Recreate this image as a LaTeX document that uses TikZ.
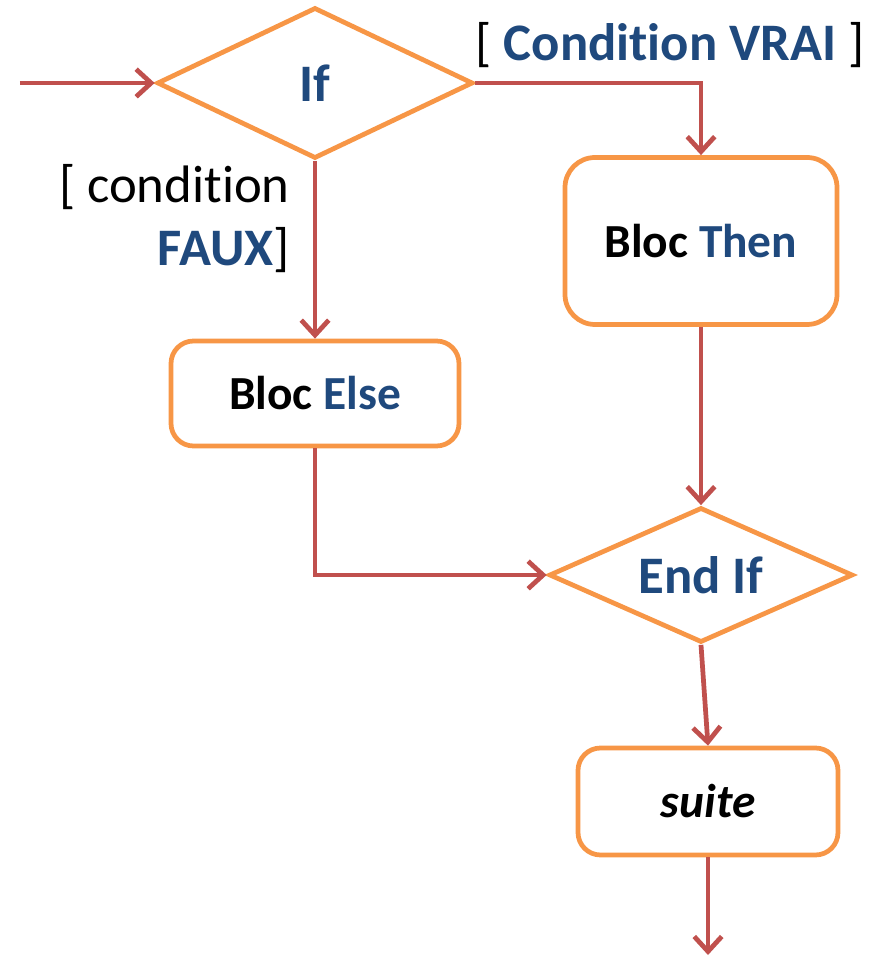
\documentclass[tikz,border=0pt]{standalone}
\usepackage{fontspec}
\setmainfont{Carlito}[Ligatures=NoCommon]
\usepackage{tikz}
\usetikzlibrary{shapes.geometric, arrows.meta}
\definecolor{boxorange}{HTML}{F79646}
\definecolor{flowred}{HTML}{C0504D}
\definecolor{kwblue}{HTML}{1F497D}
\def\lw{2.7pt}
\tikzset{decision/.style={diamond, aspect=2.2, draw=boxorange, fill=white, line width=\lw, inner sep=0pt,
    font=\fontsize{30}{36}\selectfont\bfseries\color{kwblue}}}
\tikzset{block/.style={rectangle, draw=boxorange, fill=white, line width=\lw, inner sep=0pt,
    rounded corners=.45cm, font=\fontsize{27}{32}\selectfont\bfseries}}
\tikzset{flow/.style={flowred, line width=\lw, -{Straight Barb[length=.3cm, width=.55cm, line width=\lw]}}}
\tikzset{guard/.style={inner sep=0pt, font=\fontsize{30}{36}\selectfont}}

\begin{document}
\begin{tikzpicture}
      \useasboundingbox (0,0) rectangle (17.42,19.22);
      % Noeuds
      \node[decision, minimum width=6.32cm, minimum height=3.02cm] (if) at (6.3,17.56) {If};
      \node[block, minimum width=5.44cm, minimum height=3.34cm, rounded corners=.6cm] (then) at (14.02,14.4)
        {Bloc \textcolor{kwblue}{Then}};
      \node[block, minimum width=5.76cm, minimum height=2.1cm] (else) at (6.3,11.35)
        {Bloc \textcolor{kwblue}{Else}};
      \node[decision, minimum width=6.08cm, minimum height=2.7cm] (endif) at (14.02,7.72) {End If};
      \node[block, minimum width=5.2cm, minimum height=2.14cm] (suite) at (14.16,3.19) {\itshape suite};

      % Gardes
      \node[guard] (vrai) at (13.4,18.32) {[ \textcolor{kwblue}{\bfseries Condition VRAI} ]};
      \node[guard, align=right, anchor=east] (faux) at (5.8,14.85)
        {[ condition\\ \textcolor{kwblue}{\bfseries FAUX}]};

      % Fleches
      \coordinate (in) at (0.4,17.56);
      \coordinate (out) at (14.16,0.12);
      \draw[flow] (in) -- (if.west);
      \draw[flow] (if.east) -| (then.north);
      \draw[flow] (if.south) -- (else.north);
      \draw[flow] (then.south) -- (endif.north);
      \draw[flow] (else.south) |- (endif.west);
      \draw[flow] (endif.south) -- (suite.north);
      \draw[flow] (suite.south) -- (out);
\end{tikzpicture}
\end{document}
